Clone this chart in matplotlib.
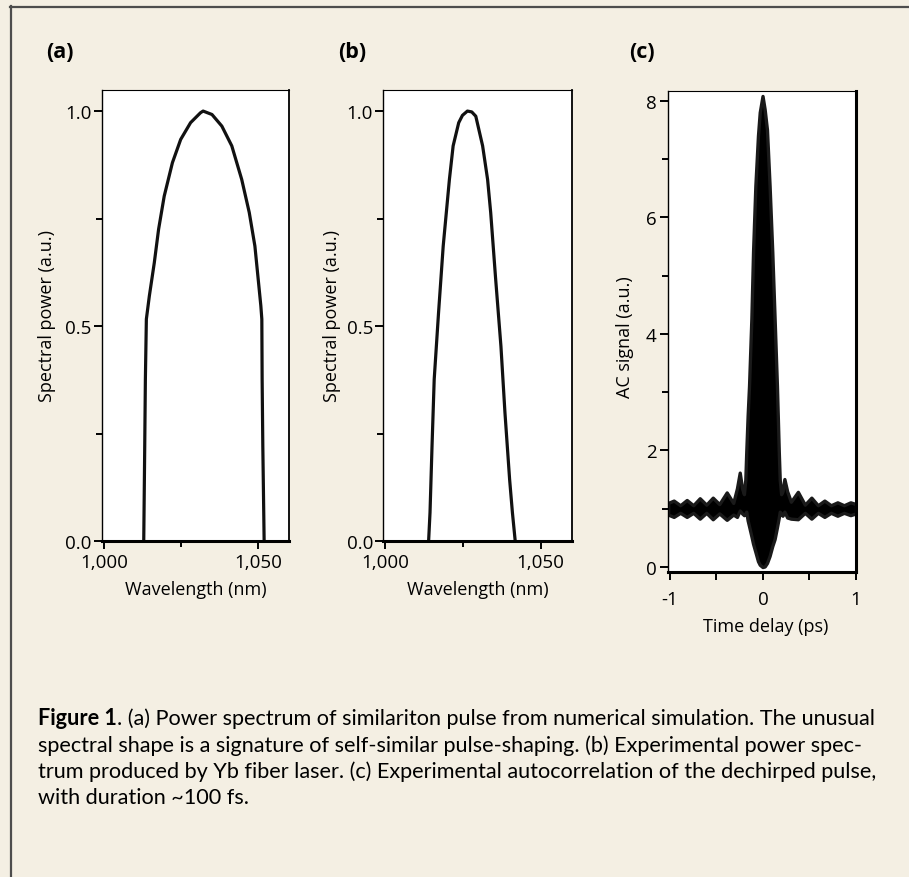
import matplotlib
matplotlib.use('Agg')
import matplotlib.pyplot as plt
from matplotlib.lines import Line2D
from matplotlib.ticker import MultipleLocator, FuncFormatter

# (a) simulated similariton spectrum
wl_a = [1012.85, 1013.17, 1013.38, 1013.7, 1014.67, 1016.27, 1017.67, 1019.49, 1022.16,
        1024.84, 1028.05, 1031.26, 1032.12, 1035.0, 1038.2, 1041.43, 1044.65, 1047.1,
        1048.93, 1050.0, 1050.86, 1051.18, 1051.28, 1051.5, 1051.93]
p_a = [0.0, 0.221, 0.376, 0.516, 0.57, 0.647, 0.725, 0.802, 0.88,
       0.934, 0.973, 0.996, 1.0, 0.992, 0.965, 0.919, 0.841, 0.764,
       0.686, 0.609, 0.547, 0.516, 0.376, 0.221, 0.0]

# (b) measured spectrum, Yb fiber laser
wl_b = [1013.9, 1014.35, 1015.0, 1015.7, 1017.1, 1018.6, 1020.6, 1021.8, 1023.6, 1024.8,
        1026.4, 1027.8, 1029.1, 1031.3, 1032.9, 1033.9, 1035.5, 1037.2, 1038.5, 1040.0,
        1040.9, 1041.8]
p_b = [0.0, 0.066, 0.221, 0.376, 0.531, 0.686, 0.841, 0.919, 0.973, 0.99,
       1.0, 0.998, 0.988, 0.919, 0.841, 0.764, 0.609, 0.453, 0.298, 0.143,
       0.066, 0.0]

# (c) autocorrelation: upper / lower envelope of the fringes
t_c = [-1.02, -0.96, -0.89, -0.82, -0.75, -0.68, -0.61, -0.54, -0.47, -0.39, -0.32,
       -0.28, -0.25, -0.225, -0.205, -0.19, -0.18, -0.165, -0.15, -0.125, -0.107,
       -0.082, -0.054, -0.035, -0.005, 0.018, 0.043, 0.071, 0.1, 0.125, 0.15, 0.17,
       0.18, 0.195, 0.21, 0.23, 0.26, 0.3, 0.375, 0.45, 0.52, 0.59, 0.66, 0.73,
       0.8, 0.87, 0.94, 1.0]
ac_hi = [1.1, 1.14, 1.06, 1.15, 1.06, 1.18, 1.07, 1.19, 1.08, 1.28, 1.1,
         1.35, 1.62, 1.35, 1.25, 1.5, 1.97, 2.6, 3.11, 4.26, 5.4,
         6.54, 7.4, 7.8, 8.08, 7.85, 7.5, 6.54, 5.4, 4.26, 3.11, 1.97,
         1.5, 1.25, 1.3, 1.51, 1.3, 1.12, 1.29, 1.07, 1.19, 1.06, 1.14, 1.06,
         1.11, 1.06, 1.11, 1.08]
ac_lo = [0.9, 0.86, 0.93, 0.86, 0.93, 0.83, 0.93, 0.82, 0.92, 0.81, 0.9,
         0.86, 0.97, 0.92, 0.89, 0.92, 0.95, 0.8, 0.7, 0.53, 0.4,
         0.26, 0.1, 0.04, 0.0, 0.01, 0.07, 0.19, 0.36, 0.48, 0.68, 0.85,
         0.95, 0.92, 0.88, 0.95, 0.85, 0.83, 0.82, 0.93, 0.83, 0.93, 0.86, 0.93,
         0.88, 0.93, 0.89, 0.92]

caption = [
    ". (a) Power spectrum of similariton pulse from numerical simulation. The unusual",
    "spectral shape is a signature of self-similar pulse-shaping. (b) Experimental power spec-",
    "trum produced by Yb fiber laser. (c) Experimental autocorrelation of the dechirped pulse,",
    "with duration ~100 fs.",
]

W, H = 909, 878
bg = '#f4efe3'
plt.rcParams['font.family'] = ['Open Sans', 'DejaVu Sans']
plt.rcParams['axes.unicode_minus'] = False

fig = plt.figure(figsize=(W / 100, H / 100), dpi=100, facecolor=bg)

# frame lines (top and left)
fig.add_artist(Line2D([10 / W, 1], [1 - 7.5 / H, 1 - 7.5 / H], color='#4d4d4d', lw=1.6))
fig.add_artist(Line2D([10.5 / W, 10.5 / W], [0, 1 - 7 / H], color='#4d4d4d', lw=1.6))


def box(l, r, t, b):
    return [l / W, 1 - b / H, (r - l) / W, (b - t) / H]


def style(ax, thick_right=False):
    ax.set_facecolor('white')
    ax.spines['left'].set_linewidth(1.0)
    ax.spines['top'].set_linewidth(0.8)
    ax.spines['right'].set_linewidth(2.2 if thick_right else 1.3)
    ax.spines['bottom'].set_linewidth(2.2)
    ax.tick_params(which='both', direction='out', width=1.4, labelsize=13.5,
                   top=False, right=False)
    ax.tick_params(which='major', length=5.5)
    ax.tick_params(which='minor', length=4.5)
    ax.xaxis.label.set_size(13)
    ax.yaxis.label.set_size(13)
    for lab in (ax.xaxis.label, ax.yaxis.label):
        lab.set_va('center')
        lab.set_ha('center')


comma = FuncFormatter(lambda v, p: f'{v:,.0f}')

# (a)
ax_a = fig.add_axes(box(102, 289, 91, 542))
ax_a.plot(wl_a, p_a, color='#111111', lw=2.3, solid_joinstyle='round')
ax_a.set_xlim(999.3, 1060)
ax_a.set_ylim(0, 1.049)
# (b)
ax_b = fig.add_axes(box(383.3, 571.7, 91, 542))
ax_b.plot(wl_b, p_b, color='#111111', lw=2.3, solid_joinstyle='round')
ax_b.set_xlim(999.3, 1060)
ax_b.set_ylim(0, 1.049)

for ax, lx in ((ax_a, -0.296), (ax_b, -0.274)):
    style(ax)
    ax.xaxis.set_major_locator(MultipleLocator(50))
    ax.xaxis.set_minor_locator(MultipleLocator(25))
    ax.xaxis.set_major_formatter(comma)
    ax.yaxis.set_major_locator(MultipleLocator(0.5))
    ax.yaxis.set_minor_locator(MultipleLocator(0.25))
    ax.tick_params(axis='x', pad=3)
    ax.tick_params(axis='y', pad=2)
    ax.set_xlabel('Wavelength (nm)')
    ax.set_ylabel('Spectral power (a.u.)')
    ax.xaxis.set_label_coords(0.5, -0.106)
    ax.yaxis.set_label_coords(lx, 0.5)

# (c)
ax_c = fig.add_axes(box(668.3, 856, 91.7, 573.3))
ax_c.fill_between(t_c, ac_lo, ac_hi, facecolor='black', edgecolor='#1a1a1a',
                  lw=2.4, joinstyle='round')
ax_c.set_xlim(-1.018, 1.0)
ax_c.set_ylim(-0.09, 8.17)
style(ax_c, thick_right=True)
ax_c.xaxis.set_major_locator(MultipleLocator(1))
ax_c.xaxis.set_minor_locator(MultipleLocator(0.5))
ax_c.yaxis.set_major_locator(MultipleLocator(2))
ax_c.yaxis.set_minor_locator(MultipleLocator(1))
ax_c.xaxis.set_major_formatter(FuncFormatter(lambda v, p: f'{v:.0f}'))
ax_c.tick_params(axis='x', which='minor', length=5.5)
ax_c.tick_params(axis='x', pad=7)
ax_c.tick_params(axis='y', pad=3)
ax_c.set_xlabel('Time delay (ps)')
ax_c.set_ylabel('AC signal (a.u.)')
ax_c.xaxis.set_label_coords(0.52, -0.111)
ax_c.yaxis.set_label_coords(-0.231, 0.491)

# panel letters
for x, s in ((46, '(a)'), (338, '(b)'), (629, '(c)')):
    fig.text(x / W, 1 - 53 / H, s, fontsize=15.5, fontweight='bold',
             family=['Liberation Sans Narrow', 'Open Sans'], va='center')

# caption
cap_font = ['Lato', 'DejaVu Sans']
cap_size = 15.6
rend = fig.canvas.get_renderer()
ys = [719, 745.5, 772, 798.5]
head = fig.text(38 / W, 1 - ys[0] / H, 'Figure 1', fontsize=cap_size, fontweight='bold',
                family=cap_font, va='center')
x_after = head.get_window_extent(rend).x1
fig.text(x_after / W, 1 - ys[0] / H, caption[0], fontsize=cap_size, family=cap_font,
         va='center')
for y, line in zip(ys[1:], caption[1:]):
    fig.text(38 / W, 1 - y / H, line, fontsize=cap_size, family=cap_font, va='center')

fig.savefig('out.png', dpi=100, facecolor=bg)
